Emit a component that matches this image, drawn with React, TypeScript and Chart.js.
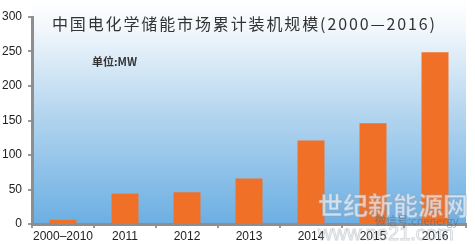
import React, { useEffect, useRef } from "react";
import { Chart, registerables } from "chart.js";

Chart.register(...registerables);

const categories = ["2000–2010", "2011", "2012", "2013", "2014", "2015", "2016"];
const values = [6, 44, 46, 66, 121, 146, 249];
const yTicks = [0, 50, 100, 150, 200, 250, 300];
const titleText = "中国电化学储能市场累计装机规模(2000—2016)";
const unitText = "单位:MW";
const watermark = "世纪新能源网";

const FONT = "'Liberation Sans', Arial, sans-serif";
const CJK = "'Noto Sans CJK SC', 'Noto Sans', sans-serif";

const bgPlugin = {
  id: "bg",
  beforeDraw(chart: any) {
    const { ctx, chartArea } = chart;
    ctx.save();
    ctx.fillStyle = "#ffffff";
    ctx.fillRect(0, 0, chart.width, chart.height);
    const g = ctx.createLinearGradient(0, 0, 0, chartArea.bottom);
    g.addColorStop(0, "#ffffff");
    g.addColorStop(0.12, "#f3f8fc");
    g.addColorStop(0.5, "#b5d6ef");
    g.addColorStop(1, "#6cafe3");
    ctx.fillStyle = g;
    ctx.fillRect(chartArea.left, 0, chartArea.right - chartArea.left, chartArea.bottom);
    ctx.restore();
  },
  afterDraw(chart: any) {
    const { ctx } = chart;
    ctx.save();
    // title
    ctx.font = `16px ${CJK}`;
    ctx.fillStyle = "#333333";
    ctx.textBaseline = "middle";
    ctx.textAlign = "left";
    const chars = Array.from(titleText);
    const w = ctx.measureText(titleText).width;
    const spacing = (383 - w) / (chars.length - 1);
    let x = 52;
    for (const c of chars) {
      ctx.fillText(c, x, 24);
      x += ctx.measureText(c).width + spacing;
    }
    // unit
    ctx.font = `bold 11px ${CJK}`;
    ctx.fillStyle = "#333333";
    ctx.fillText(unitText, 92, 62);
    // watermark
    ctx.font = `bold 25px ${CJK}`;
    ctx.textAlign = "left";
    ctx.lineWidth = 1;
    ctx.strokeStyle = "rgba(150,160,175,0.5)";
    ctx.fillStyle = "rgba(255,255,255,0.62)";
    const wm = Array.from(watermark);
    let wx = 318;
    for (const c of wm) {
      ctx.fillText(c, wx, 205);
      ctx.strokeText(c, wx, 205);
      wx += 25;
    }
    ctx.font = `11px ${CJK}`;
    ctx.fillStyle = "rgba(90,100,110,0.55)";
    ctx.fillText("微信号:cnenergy", 375, 221);
    ctx.font = `20px ${FONT}`;
    ctx.strokeStyle = "rgba(160,170,180,0.45)";
    ctx.strokeText("www.ne21.com", 318, 234);
    ctx.restore();
  },
};

export default function App() {
  const ref = useRef<HTMLCanvasElement>(null);
  useEffect(() => {
    document.body.style.margin = "0";
    const chart = new Chart(ref.current as HTMLCanvasElement, {
      type: "bar",
      data: {
        labels: categories,
        datasets: [
          {
            data: values,
            backgroundColor: "#f17027",
            categoryPercentage: 1,
            barPercentage: 0.435,
          },
        ],
      },
      options: {
        animation: false,
        responsive: false,
        maintainAspectRatio: false,
        layout: { padding: { top: 17, right: 9, left: 0, bottom: 0 } },
        plugins: { legend: { display: false }, tooltip: { enabled: false }, title: { display: false } },
        scales: {
          x: {
            offset: true,
            afterFit(s: any) {
              s.height = 20;
            },
            grid: {
              offset: true,
              drawOnChartArea: false,
              drawTicks: true,
              tickLength: 4,
              color: "#9a9a9a",
              lineWidth: 2,
            },
            border: { color: "#8e8e8e", width: 3 },
            ticks: {
              color: "#222",
              font: { size: 12, family: FONT },
              padding: 1,
              maxRotation: 0,
              autoSkip: false,
            },
          },
          y: {
            min: 0,
            max: 300,
            afterFit(s: any) {
              s.width = 32;
            },
            afterBuildTicks(s: any) {
              s.ticks = yTicks.map((v) => ({ value: v }));
            },
            grid: {
              drawOnChartArea: false,
              drawTicks: true,
              tickLength: 4,
              color: "#9a9a9a",
              lineWidth: 2,
            },
            border: { color: "#8e8e8e", width: 3 },
            ticks: { color: "#222", font: { size: 12, family: FONT }, padding: 6 },
          },
        },
      },
      plugins: [bgPlugin],
    });
    return () => chart.destroy();
  }, []);
  return (
    <div style={{ width: 475, height: 244 }}>
      <canvas ref={ref} width={475} height={244} style={{ display: "block" }} />
    </div>
  );
}
